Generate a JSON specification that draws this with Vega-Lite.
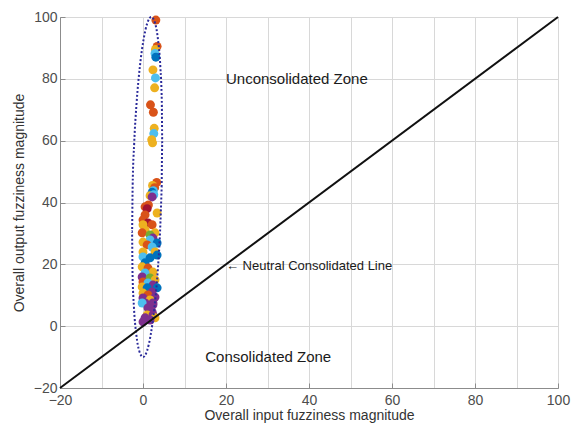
{
  "$schema": "https://vega.github.io/schema/vega-lite/v6.json",
  "width": 498,
  "height": 371,
  "autosize": {"type": "none"},
  "padding": {"left": 60, "top": 17, "right": 16, "bottom": 42},
  "background": "white",
  "config": {
    "font": "Liberation Sans",
    "view": {"stroke": "#8c8c8c", "strokeWidth": 1},
    "axis": {
      "labelFont": "Liberation Sans",
      "titleFont": "Liberation Sans",
      "labelFontSize": 14,
      "titleFontSize": 14,
      "titleFontWeight": "normal",
      "labelColor": "#4d4d4d",
      "titleColor": "#333333",
      "domainColor": "#8c8c8c",
      "tickColor": "#8c8c8c",
      "tickSize": -5,
      "grid": true,
      "gridWidth": 1,
      "gridOpacity": 1,
      "gridColor": "#d8d8d8"
    }
  },
  "layer": [
    {
      "data": {"values": [
        {"x": 3.1, "y": 99, "c": "O"},
        {"x": 3.4, "y": 90.5, "c": "O"},
        {"x": 3.0, "y": 89.5, "c": "Y"},
        {"x": 2.9, "y": 88.2, "c": "L"},
        {"x": 3.1, "y": 87.0, "c": "B"},
        {"x": 2.4, "y": 82.9, "c": "Y"},
        {"x": 3.0, "y": 80.3, "c": "L"},
        {"x": 2.8, "y": 77.1, "c": "Y"},
        {"x": 1.8, "y": 71.6, "c": "O"},
        {"x": 2.5, "y": 69.2, "c": "O"},
        {"x": 2.7, "y": 64.0, "c": "Y"},
        {"x": 2.6, "y": 62.3, "c": "L"},
        {"x": 2.1, "y": 60.3, "c": "Y"},
        {"x": 2.3, "y": 59.3, "c": "Y"},
        {"x": 3.3, "y": 46.5, "c": "O"},
        {"x": 2.3, "y": 45.5, "c": "Y"},
        {"x": 2.8, "y": 44.8, "c": "O"},
        {"x": 2.5, "y": 43.8, "c": "L"},
        {"x": 2.2, "y": 43.3, "c": "B"},
        {"x": 1.7, "y": 42.2, "c": "Y"},
        {"x": 2.6, "y": 42.5, "c": "L"},
        {"x": 2.2, "y": 41.8, "c": "P"},
        {"x": 0.5, "y": 38.6, "c": "O"},
        {"x": 1.3, "y": 39.2, "c": "O"},
        {"x": 1.0, "y": 38.0, "c": "R"},
        {"x": 3.4, "y": 36.6, "c": "Y"},
        {"x": 0.5, "y": 36.0, "c": "O"},
        {"x": 0.0, "y": 34.4, "c": "O"},
        {"x": 1.2, "y": 33.4, "c": "R"},
        {"x": 0.0, "y": 32.8, "c": "Y"},
        {"x": 2.2, "y": 32.8, "c": "O"},
        {"x": 0.5, "y": 31.1, "c": "Y"},
        {"x": 2.9, "y": 30.2, "c": "Y"},
        {"x": -0.2, "y": 30.2, "c": "O"},
        {"x": 1.7, "y": 29.5, "c": "G"},
        {"x": 2.4, "y": 28.5, "c": "P"},
        {"x": 1.7, "y": 27.9, "c": "L"},
        {"x": 0.0, "y": 27.2, "c": "Y"},
        {"x": 3.4, "y": 26.9, "c": "B"},
        {"x": 1.0, "y": 26.3, "c": "O"},
        {"x": 2.2, "y": 25.6, "c": "L"},
        {"x": 0.0, "y": 24.0, "c": "Y"},
        {"x": 2.9, "y": 24.0, "c": "Y"},
        {"x": 3.4, "y": 23.0, "c": "B"},
        {"x": 0.0, "y": 22.4, "c": "L"},
        {"x": 1.7, "y": 22.1, "c": "B"},
        {"x": 0.5, "y": 20.5, "c": "B"},
        {"x": -0.2, "y": 19.2, "c": "Y"},
        {"x": 1.2, "y": 18.8, "c": "O"},
        {"x": 2.4, "y": 17.5, "c": "Y"},
        {"x": 0.5, "y": 17.2, "c": "L"},
        {"x": -0.2, "y": 15.9, "c": "P"},
        {"x": 1.7, "y": 15.6, "c": "G"},
        {"x": 2.9, "y": 15.0, "c": "Y"},
        {"x": 0.0, "y": 14.3, "c": "O"},
        {"x": 1.2, "y": 14.0, "c": "L"},
        {"x": 2.4, "y": 13.3, "c": "P"},
        {"x": -0.2, "y": 12.7, "c": "Y"},
        {"x": 1.0, "y": 12.4, "c": "B"},
        {"x": 3.4, "y": 12.4, "c": "B"},
        {"x": 2.2, "y": 11.1, "c": "P"},
        {"x": 0.0, "y": 10.7, "c": "Y"},
        {"x": 1.2, "y": 10.1, "c": "O"},
        {"x": 2.9, "y": 9.4, "c": "P"},
        {"x": 0.0, "y": 9.1, "c": "P"},
        {"x": 1.7, "y": 8.5, "c": "Y"},
        {"x": 0.5, "y": 7.5, "c": "P"},
        {"x": 2.4, "y": 7.5, "c": "P"},
        {"x": -0.2, "y": 7.5, "c": "L"},
        {"x": 2.4, "y": 6.9, "c": "P"},
        {"x": 1.2, "y": 5.9, "c": "P"},
        {"x": 2.2, "y": 4.6, "c": "P"},
        {"x": 1.0, "y": 3.6, "c": "Y"},
        {"x": 2.4, "y": 3.6, "c": "P"},
        {"x": 2.9, "y": 2.7, "c": "Y"},
        {"x": 0.5, "y": 2.7, "c": "P"},
        {"x": 1.7, "y": 2.0, "c": "P"},
        {"x": 0.0, "y": 1.4, "c": "P"}
      ]},
      "mark": {"type": "circle", "size": 80, "opacity": 1},
      "encoding": {
        "x": {
          "field": "x", "type": "quantitative",
          "scale": {"domain": [-20, 100], "nice": false, "zero": false},
          "axis": {
            "title": "Overall input fuzziness magnitude",
            "values": [-20, -15, -10, -5, 0, 5, 10, 15, 20, 25, 30, 35, 40, 45, 50, 55, 60, 65, 70, 75, 80, 85, 90, 95, 100],
            "labelExpr": "datum.value % 20 === 0 ? datum.label : ''",
            "tickOpacity": {"condition": {"test": "datum.value % 20 === 0", "value": 1}, "value": 0},
            "labelPadding": 10,
            "titlePadding": 1,
            "labelFlush": false
          }
        },
        "y": {
          "field": "y", "type": "quantitative",
          "scale": {"domain": [-20, 100], "nice": false, "zero": false},
          "axis": {
            "title": "Overall output fuzziness magnitude",
            "values": [-20, -15, -10, -5, 0, 5, 10, 15, 20, 25, 30, 35, 40, 45, 50, 55, 60, 65, 70, 75, 80, 85, 90, 95, 100],
            "labelExpr": "datum.value % 20 === 0 ? datum.label : ''",
            "tickOpacity": {"condition": {"test": "datum.value % 20 === 0", "value": 1}, "value": 0},
            "labelPadding": 8,
            "titlePadding": 7,
            "labelFlush": false
          }
        },
        "color": {
          "field": "c", "type": "nominal", "legend": null,
          "scale": {
            "domain": ["B", "O", "Y", "P", "G", "L", "R"],
            "range": ["#0072BD", "#D95319", "#EDB120", "#7E2F8E", "#77AC30", "#4DBEEE", "#A2142F"]
          }
        }
      }
    },
    {
      "data": {"values": [
        {"i": 0, "x": 4.5, "y": 45},
        {"i": 1, "x": 4.64, "y": 59.2},
        {"i": 2, "x": 4.53, "y": 72.5},
        {"i": 3, "x": 4.18, "y": 83.9},
        {"i": 4, "x": 3.62, "y": 92.6},
        {"i": 5, "x": 2.88, "y": 98.1},
        {"i": 6, "x": 2.0, "y": 100},
        {"i": 7, "x": 1.06, "y": 98.1},
        {"i": 8, "x": 0.12, "y": 92.6},
        {"i": 9, "x": -0.76, "y": 83.9},
        {"i": 10, "x": -1.53, "y": 72.5},
        {"i": 11, "x": -2.12, "y": 59.2},
        {"i": 12, "x": -2.5, "y": 45},
        {"i": 13, "x": -2.64, "y": 30.8},
        {"i": 14, "x": -2.53, "y": 17.5},
        {"i": 15, "x": -2.18, "y": 6.1},
        {"i": 16, "x": -1.62, "y": -2.6},
        {"i": 17, "x": -0.88, "y": -8.1},
        {"i": 18, "x": 0.0, "y": -10},
        {"i": 19, "x": 0.94, "y": -8.1},
        {"i": 20, "x": 1.88, "y": -2.6},
        {"i": 21, "x": 2.76, "y": 6.1},
        {"i": 22, "x": 3.53, "y": 17.5},
        {"i": 23, "x": 4.12, "y": 30.8},
        {"i": 24, "x": 4.5, "y": 45}
      ]},
      "mark": {"type": "line", "color": "#2a2a9a", "strokeWidth": 2, "strokeDash": [2, 2], "interpolate": "monotone"},
      "encoding": {
        "x": {"field": "x", "type": "quantitative"},
        "y": {"field": "y", "type": "quantitative"},
        "order": {"field": "i", "type": "quantitative"}
      }
    },
    {
      "data": {"values": [{"x": -20, "y": -20}, {"x": 100, "y": 100}]},
      "mark": {"type": "line", "color": "#111111", "strokeWidth": 2},
      "encoding": {
        "x": {"field": "x", "type": "quantitative"},
        "y": {"field": "y", "type": "quantitative"}
      }
    },
    {
      "data": {"values": [
        {"x": 20, "y": 80, "t": "Unconsolidated Zone", "s": 15},
        {"x": 20, "y": 19.5, "t": "← Neutral Consolidated Line", "s": 13},
        {"x": 15, "y": -10, "t": "Consolidated Zone", "s": 15}
      ]},
      "mark": {"type": "text", "align": "left", "baseline": "middle", "font": "Liberation Sans", "color": "#1a1a1a"},
      "encoding": {
        "x": {"field": "x", "type": "quantitative"},
        "y": {"field": "y", "type": "quantitative"},
        "text": {"field": "t"},
        "size": {"field": "s", "type": "quantitative", "scale": null}
      }
    }
  ]
}
